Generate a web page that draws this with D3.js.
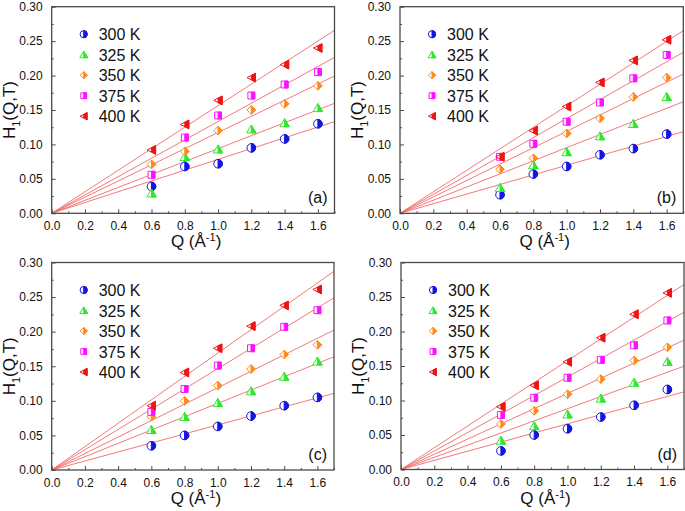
<!DOCTYPE html>
<html>
<head>
<meta charset="utf-8">
<script src="https://cdn.jsdelivr.net/npm/d3@7"></script>
<style>
  html, body { margin: 0; padding: 0; background: #fff; }
  svg { display: block; font-family: "Liberation Sans", Arial, sans-serif; }
</style>
</head>
<body>
<svg id="chart" width="685" height="511"></svg>
<script>
// ---------- data ----------
const qValues = [0.6, 0.8, 1.0, 1.2, 1.4, 1.6];
const temperatures = ["300 K", "325 K", "350 K", "375 K", "400 K"];
const xTicks = [0.0, 0.2, 0.4, 0.6, 0.8, 1.0, 1.2, 1.4, 1.6];
const yTicks = [0.00, 0.05, 0.10, 0.15, 0.20, 0.25, 0.30];
const panelLabels = ["(a)", "(b)", "(c)", "(d)"];

// panel (a)
const a300 = [0.039, 0.068, 0.072, 0.095, 0.108, 0.130];
const a325 = [0.029, 0.082, 0.093, 0.122, 0.131, 0.153];
const a350 = [0.071, 0.090, 0.120, 0.150, 0.159, 0.185];
const a375 = [0.056, 0.110, 0.142, 0.171, 0.187, 0.205];
const a400 = [0.092, 0.129, 0.164, 0.197, 0.216, 0.240];
const aSlopes = [0.0783, 0.0939, 0.1173, 0.1332, 0.1563];

// panel (b)
const b300 = [0.027, 0.057, 0.068, 0.085, 0.094, 0.115];
const b325 = [0.037, 0.070, 0.089, 0.112, 0.130, 0.169];
const b350 = [0.064, 0.080, 0.116, 0.138, 0.169, 0.197];
const b375 = [0.082, 0.101, 0.133, 0.161, 0.196, 0.230];
const b400 = [0.082, 0.120, 0.155, 0.190, 0.222, 0.252];
const bSlopes = [0.0697, 0.0953, 0.1190, 0.1375, 0.1560];

// panel (c)
const c300 = [0.035, 0.050, 0.063, 0.078, 0.093, 0.105];
const c325 = [0.058, 0.077, 0.097, 0.114, 0.135, 0.157];
const c350 = [0.077, 0.100, 0.122, 0.146, 0.167, 0.181];
const c375 = [0.084, 0.117, 0.151, 0.176, 0.207, 0.231];
const c400 = [0.093, 0.141, 0.176, 0.208, 0.238, 0.261];
const cSlopes = [0.0652, 0.0963, 0.1190, 0.1465, 0.1690];

// panel (d)
const d300 = [0.027, 0.050, 0.059, 0.076, 0.093, 0.116];
const d325 = [0.042, 0.063, 0.080, 0.103, 0.126, 0.156];
const d350 = [0.066, 0.085, 0.109, 0.131, 0.158, 0.177];
const d375 = [0.079, 0.104, 0.133, 0.159, 0.180, 0.216];
const d400 = [0.091, 0.122, 0.156, 0.191, 0.225, 0.256];
const dSlopes = [0.0662, 0.0881, 0.1102, 0.1340, 0.1577];

const seriesColors = ["#1515e0", "#2ee82e", "#ff8a1c", "#ff10ff", "#ee1515"];
const markerKinds = ["circle", "triUp", "diamond", "square", "triLeft"];

const panels = [
  { label: panelLabels[0], series: [a300, a325, a350, a375, a400], slopes: aSlopes,
    box: { x0: 51.7, x1: 334.5, y0: 213.3, y1: 6.7 } },
  { label: panelLabels[1], series: [b300, b325, b350, b375, b400], slopes: bSlopes,
    box: { x0: 400.0, x1: 683.3, y0: 213.3, y1: 6.7 } },
  { label: panelLabels[2], series: [c300, c325, c350, c375, c400], slopes: cSlopes,
    box: { x0: 51.7, x1: 334.0, y0: 470.0, y1: 262.5 } },
  { label: panelLabels[3], series: [d300, d325, d350, d375, d400], slopes: dSlopes,
    box: { x0: 401.0, x1: 684.0, y0: 469.5, y1: 262.5 } }
];

// ---------- marker shapes ----------
function markerPaths(kind, r) {
  switch (kind) {
    case "circle":
      return {
        full: `M0,${-r} A${r},${r} 0 1 1 0,${r} A${r},${r} 0 1 1 0,${-r} Z`,
        half: `M0,${-r} A${r},${r} 0 0 1 0,${r} Z`
      };
    case "triUp": {
      const w = r * 1.1, b = r * 0.85;
      return {
        full: `M0,${-r} L${w},${b} L${-w},${b} Z`,
        half: `M0,${-r} L${w},${b} L0,${b} Z`
      };
    }
    case "diamond":
      return {
        full: `M0,${-r} L${r},0 L0,${r} L${-r},0 Z`,
        half: `M0,${-r} L${r},0 L0,${r} Z`
      };
    case "square": {
      const s = r * 0.8;
      return {
        full: `M${-s},${-s} H${s} V${s} H${-s} Z`,
        half: `M0,${-s} H${s} V${s} H0 Z`
      };
    }
    case "triLeft": {
      const h = r * 0.95;
      return {
        full: `M${-r},0 L${h},${-r} L${h},${r} Z`,
        half: `M0,${-r * 0.5} L${h},${-r} L${h},${r} L0,${r * 0.5} Z`
      };
    }
  }
}

function drawMarker(g, kind, color, x, y, r) {
  const p = markerPaths(kind, r);
  const m = g.append("g").attr("transform", `translate(${x},${y})`);
  m.append("path").attr("d", p.full).attr("fill", "#fff")
    .attr("stroke", color).attr("stroke-width", 1);
  m.append("path").attr("d", p.half).attr("fill", color)
    .attr("stroke", color).attr("stroke-width", 1);
}

// ---------- drawing ----------
const svg = d3.select("#chart");
const frameColor = "#4a4a4a";
const minorX = d3.range(0.1, 1.71, 0.2);
const minorY = d3.range(0.025, 0.3, 0.05);

panels.forEach(panel => {
  const b = panel.box;
  const x = d3.scaleLinear().domain([0, 1.7]).range([b.x0, b.x1]);
  const y = d3.scaleLinear().domain([0, 0.30]).range([b.y0, b.y1]);
  const g = svg.append("g");

  // fit lines
  const lineGen = d3.line().x(d => x(d[0])).y(d => y(d[1]));
  panel.slopes.forEach(s => {
    g.append("path")
      .attr("d", lineGen([[0, 0], [1.7, s * 1.7]]))
      .attr("fill", "none")
      .attr("stroke", "#f26a6a")
      .attr("stroke-width", 0.9);
  });

  // x axis (ticks inward)
  const xAxis = d3.axisBottom(x).tickValues(xTicks).tickFormat(d3.format(".1f"))
    .tickSizeInner(-4).tickSizeOuter(0).tickPadding(8);
  const gx = g.append("g").attr("transform", `translate(0,${b.y0})`).call(xAxis);
  gx.selectAll(".tick line").attr("stroke", frameColor).attr("stroke-width", 1);
  gx.selectAll("text").attr("font-size", 12).attr("fill", "#111")
    .attr("font-family", "'Liberation Sans', Arial, sans-serif");
  gx.select(".domain").remove();
  const xMinor = d3.axisBottom(x).tickValues(minorX).tickFormat("").tickSizeInner(-2).tickSizeOuter(0);
  const gxm = g.append("g").attr("transform", `translate(0,${b.y0})`).call(xMinor);
  gxm.select(".domain").remove();
  gxm.selectAll(".tick line").attr("stroke", frameColor);

  // y axis (ticks inward)
  const yAxis = d3.axisLeft(y).tickValues(yTicks).tickFormat(d3.format(".2f"))
    .tickSizeInner(-4).tickSizeOuter(0).tickPadding(9);
  const gy = g.append("g").attr("transform", `translate(${b.x0},0)`).call(yAxis);
  gy.selectAll(".tick line").attr("stroke", frameColor).attr("stroke-width", 1);
  gy.selectAll("text").attr("font-size", 12).attr("fill", "#111")
    .attr("font-family", "'Liberation Sans', Arial, sans-serif");
  gy.select(".domain").remove();
  const yMinor = d3.axisLeft(y).tickValues(minorY).tickFormat("").tickSizeInner(-2).tickSizeOuter(0);
  const gym = g.append("g").attr("transform", `translate(${b.x0},0)`).call(yMinor);
  gym.select(".domain").remove();
  gym.selectAll(".tick line").attr("stroke", frameColor);

  // frame
  g.append("rect")
    .attr("x", b.x0).attr("y", b.y1)
    .attr("width", b.x1 - b.x0).attr("height", b.y0 - b.y1)
    .attr("fill", "none").attr("stroke", frameColor).attr("stroke-width", 1.3);

  // data markers
  panel.series.forEach((vals, i) => {
    vals.forEach((v, j) => {
      drawMarker(g, markerKinds[i], seriesColors[i], x(qValues[j]), y(v), 4.3);
    });
  });

  // legend
  const lx = b.x0 + 32, ly = b.y1 + 27.5, dy = 20.5;
  temperatures.forEach((t, i) => {
    drawMarker(g, markerKinds[i], seriesColors[i], lx, ly + i * dy, 3.6);
    g.append("text").attr("x", lx + 15).attr("y", ly + i * dy + 6)
      .attr("font-size", 16).attr("fill", "#111").text(t);
  });

  // panel label
  g.append("text").attr("x", b.x1 - 7).attr("y", b.y0 - 10)
    .attr("text-anchor", "end").attr("font-size", 16).attr("fill", "#111")
    .text(panel.label);

  // axis titles
  const xt = g.append("text")
    .attr("x", (b.x0 + b.x1) / 2 + 3).attr("y", b.y0 + 34)
    .attr("text-anchor", "middle").attr("font-size", 17).attr("fill", "#111");
  xt.append("tspan").text("Q (Å");
  xt.append("tspan").attr("font-size", 11).attr("dy", -6).text("-1");
  xt.append("tspan").attr("dy", 6).text(")");

  const yt = g.append("text")
    .attr("transform", `translate(${b.x0 - 37},${(b.y0 + b.y1) / 2}) rotate(-90)`)
    .attr("text-anchor", "middle").attr("font-size", 17).attr("fill", "#111");
  yt.append("tspan").text("H");
  yt.append("tspan").attr("font-size", 11).attr("dy", 5).text("1");
  yt.append("tspan").attr("dy", -5).text("(Q,T)");
});
</script>
</body>
</html>
